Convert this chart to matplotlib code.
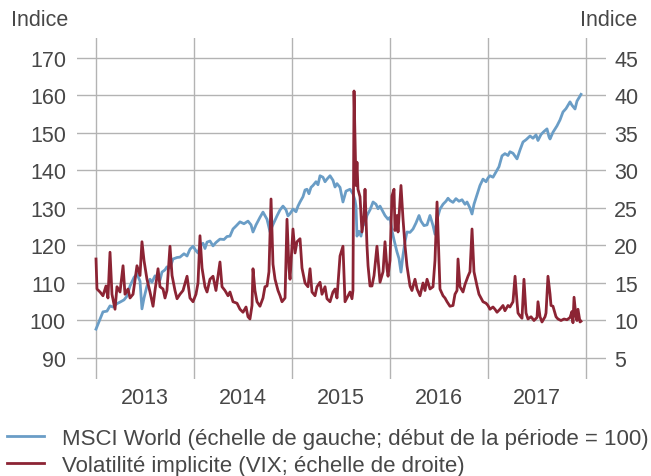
import matplotlib
matplotlib.use("Agg")
import matplotlib.pyplot as plt

# MSCI World (left scale, start = 100); time in decimal years
msci_t = [2013.000, 2013.041, 2013.071, 2013.112, 2013.143, 2013.173, 2013.214, 2013.245,
          2013.286, 2013.316, 2013.347, 2013.388, 2013.418, 2013.449, 2013.469, 2013.490,
          2013.520, 2013.551, 2013.571, 2013.602, 2013.622, 2013.653, 2013.673, 2013.704,
          2013.724, 2013.755, 2013.786, 2013.827, 2013.857, 2013.898, 2013.929, 2013.959,
          2013.990, 2014.020, 2014.041, 2014.061, 2014.092, 2014.112, 2014.133, 2014.163,
          2014.194, 2014.224, 2014.265, 2014.306, 2014.337, 2014.367, 2014.398, 2014.429,
          2014.469, 2014.510, 2014.551, 2014.582, 2014.602, 2014.633, 2014.673, 2014.704,
          2014.724, 2014.745, 2014.776, 2014.796, 2014.827, 2014.847, 2014.878, 2014.908,
          2014.939, 2014.959, 2014.980, 2015.010, 2015.041, 2015.061, 2015.082, 2015.112,
          2015.133, 2015.153, 2015.173, 2015.194, 2015.214, 2015.245, 2015.265, 2015.286,
          2015.316, 2015.337, 2015.357, 2015.388, 2015.418, 2015.439, 2015.459, 2015.490,
          2015.520, 2015.551, 2015.592, 2015.622, 2015.643, 2015.653, 2015.663, 2015.684,
          2015.704, 2015.724, 2015.745, 2015.765, 2015.796, 2015.827, 2015.857, 2015.878,
          2015.898, 2015.929, 2015.949, 2015.980, 2016.000, 2016.020, 2016.041, 2016.071,
          2016.092, 2016.112, 2016.133, 2016.153, 2016.173, 2016.204, 2016.235, 2016.265,
          2016.296, 2016.316, 2016.347, 2016.378, 2016.408, 2016.439, 2016.459, 2016.480,
          2016.510, 2016.541, 2016.571, 2016.592, 2016.612, 2016.643, 2016.673, 2016.704,
          2016.735, 2016.765, 2016.786, 2016.816, 2016.837, 2016.857, 2016.888, 2016.918,
          2016.949, 2016.980, 2017.000, 2017.020, 2017.051, 2017.082, 2017.112, 2017.143,
          2017.173, 2017.204, 2017.224, 2017.255, 2017.296, 2017.327, 2017.357, 2017.388,
          2017.429, 2017.459, 2017.490, 2017.510, 2017.541, 2017.571, 2017.602, 2017.622,
          2017.633, 2017.663, 2017.704, 2017.735, 2017.765, 2017.796, 2017.837, 2017.857,
          2017.888, 2017.908, 2017.939, 2017.949]
msci_v = [97.7, 100.4, 102.3, 102.5, 103.9, 103.6, 104.5, 104.9,
          105.5, 106.5, 109.2, 111.5, 112.4, 110.5, 103.1, 106.0,
          109.2, 111.0, 110.2, 111.9, 111.6, 110.8, 112.9, 113.5,
          114.3, 114.0, 116.4, 116.8, 116.9, 117.8, 117.2, 119.0,
          119.8, 118.6, 118.0, 119.9, 120.6, 119.2, 120.9, 121.2,
          119.9, 120.8, 121.7, 121.6, 122.4, 122.5, 124.4, 125.2,
          126.3, 125.8, 126.5, 125.5, 123.6, 125.5, 127.5, 128.9,
          128.0, 127.0, 123.6, 125.0, 126.8, 127.9, 129.5, 130.5,
          129.5, 127.9, 128.5, 129.7, 129.0, 130.5, 131.6, 133.0,
          134.8, 135.0, 133.8, 135.5, 136.0, 137.0, 136.2, 138.6,
          138.2, 137.0, 137.7, 138.6, 137.4, 135.6, 136.5, 135.5,
          131.6, 134.5, 135.0, 133.8, 132.0, 130.5, 122.5, 123.8,
          122.5, 125.3, 126.0, 128.0, 129.5, 131.6, 131.0, 129.8,
          130.5, 129.0, 128.0, 127.0, 127.5, 124.0, 121.5, 118.3,
          116.5, 112.9, 117.5, 121.0, 123.6, 123.5, 124.4, 126.0,
          128.0, 126.5, 125.3, 125.5, 128.0, 125.3, 123.0, 127.0,
          129.7, 131.0, 131.8, 132.6, 132.0, 131.5, 132.5, 131.8,
          132.2, 131.0, 131.6, 130.0, 128.4, 131.0, 133.5, 136.0,
          137.7, 137.0, 138.0, 138.6, 138.2, 139.6, 141.0, 143.9,
          144.5, 144.0, 145.0, 144.6, 143.1, 145.5, 147.6, 148.2,
          149.2, 148.6, 149.5, 148.0, 149.6, 150.4, 151.1, 149.0,
          148.4, 150.2, 151.9, 153.5, 155.6, 156.5, 158.3, 157.4,
          156.4, 158.5, 159.9, 160.3]

# VIX implied volatility (right scale)
vix_t = [2013.000, 2013.010, 2013.041, 2013.071, 2013.102, 2013.122, 2013.143, 2013.163,
         2013.194, 2013.214, 2013.245, 2013.276, 2013.296, 2013.327, 2013.347, 2013.378,
         2013.418, 2013.449, 2013.469, 2013.490, 2013.520, 2013.551, 2013.582, 2013.602,
         2013.633, 2013.653, 2013.684, 2013.704, 2013.724, 2013.755, 2013.776, 2013.806,
         2013.827, 2013.857, 2013.888, 2013.929, 2013.959, 2013.990, 2014.020, 2014.041,
         2014.061, 2014.082, 2014.112, 2014.133, 2014.163, 2014.194, 2014.224, 2014.265,
         2014.286, 2014.316, 2014.347, 2014.367, 2014.398, 2014.439, 2014.469, 2014.500,
         2014.531, 2014.551, 2014.571, 2014.592, 2014.602, 2014.622, 2014.643, 2014.673,
         2014.704, 2014.724, 2014.745, 2014.765, 2014.786, 2014.806, 2014.827, 2014.857,
         2014.878, 2014.898, 2014.929, 2014.949, 2014.969, 2014.980, 2015.010, 2015.031,
         2015.051, 2015.082, 2015.102, 2015.133, 2015.163, 2015.184, 2015.204, 2015.235,
         2015.255, 2015.286, 2015.306, 2015.337, 2015.357, 2015.388, 2015.418, 2015.439,
         2015.459, 2015.490, 2015.520, 2015.541, 2015.561, 2015.592, 2015.612, 2015.622,
         2015.633, 2015.653, 2015.663, 2015.673, 2015.694, 2015.714, 2015.735, 2015.745,
         2015.765, 2015.776, 2015.796, 2015.816, 2015.837, 2015.867, 2015.898, 2015.929,
         2015.949, 2015.969, 2015.980, 2016.000, 2016.020, 2016.041, 2016.051, 2016.071,
         2016.082, 2016.112, 2016.133, 2016.153, 2016.173, 2016.204, 2016.224, 2016.255,
         2016.276, 2016.306, 2016.337, 2016.357, 2016.378, 2016.408, 2016.439, 2016.459,
         2016.480, 2016.500, 2016.510, 2016.541, 2016.561, 2016.582, 2016.612, 2016.643,
         2016.663, 2016.684, 2016.694, 2016.714, 2016.745, 2016.765, 2016.796, 2016.816,
         2016.837, 2016.857, 2016.888, 2016.908, 2016.929, 2016.949, 2016.980, 2017.000,
         2017.020, 2017.051, 2017.071, 2017.092, 2017.122, 2017.153, 2017.173, 2017.204,
         2017.224, 2017.255, 2017.276, 2017.296, 2017.306, 2017.327, 2017.347, 2017.367,
         2017.388, 2017.408, 2017.439, 2017.469, 2017.500, 2017.510, 2017.531, 2017.551,
         2017.582, 2017.592, 2017.612, 2017.633, 2017.643, 2017.663, 2017.694, 2017.714,
         2017.745, 2017.776, 2017.806, 2017.837, 2017.857, 2017.867, 2017.878, 2017.898,
         2017.908, 2017.918, 2017.939, 2017.949]
vix_v = [18.2, 14.2, 13.8, 13.3, 14.6, 13.0, 19.1, 13.5,
         11.5, 14.5, 13.8, 17.3, 13.5, 14.2, 13.0, 13.5,
         17.3, 16.0, 20.5, 18.0, 15.5, 13.8, 11.9, 14.0,
         16.9, 14.5, 14.2, 13.0, 14.0, 19.9, 16.0, 14.0,
         12.9, 13.5, 14.0, 15.9, 13.0, 12.5, 13.5, 15.0,
         21.3, 17.0, 14.5, 13.8, 15.5, 15.9, 14.0, 17.8,
         14.5, 14.0, 13.3, 13.8, 12.5, 12.3, 11.5, 11.1,
         11.8, 10.5, 10.2, 12.0, 16.9, 14.0, 12.5, 11.9,
         13.0, 14.5, 14.6, 16.5, 26.2, 17.5, 15.5, 14.0,
         13.3, 12.5, 13.0, 23.5, 17.0, 15.5, 22.2, 19.0,
         20.5, 20.9, 17.0, 15.0, 14.5, 16.9, 13.8, 13.3,
         14.5, 15.1, 13.5, 14.5, 12.9, 12.5, 13.8, 14.2,
         13.0, 18.6, 19.9, 12.5, 13.0, 13.8, 12.9, 14.0,
         40.6, 28.0, 31.1, 27.5, 26.5, 21.8, 24.0, 27.5,
         20.0, 17.3, 14.6, 14.6, 16.0, 19.9, 15.1, 16.5,
         20.5, 17.0, 15.9, 18.0, 26.6, 27.5, 22.0, 24.0,
         21.8, 28.0, 23.5, 20.0, 17.3, 14.6, 14.0, 15.5,
         14.2, 13.3, 15.0, 14.0, 15.5, 14.2, 14.5, 18.0,
         25.8, 18.0, 14.2, 13.3, 13.0, 12.5, 11.9, 12.0,
         13.5, 14.0, 18.2, 14.5, 13.8, 14.8, 15.9, 16.5,
         22.2, 16.5, 14.6, 13.5, 13.0, 12.5, 12.3, 12.0,
         11.5, 11.8, 11.5, 11.1, 11.5, 12.0, 11.3, 12.0,
         11.8, 12.5, 15.9, 12.5, 11.0, 10.6, 10.3, 15.5,
         11.0, 10.2, 10.5, 10.0, 10.4, 12.5, 10.5, 9.8,
         10.5, 11.0, 15.9, 13.5, 12.0, 11.9, 10.5, 10.2,
         10.0, 10.2, 10.1, 10.4, 11.2, 9.7, 13.1, 10.5,
         10.0, 11.5, 9.8, 9.9]

years = [2013, 2014, 2015, 2016, 2017]
left_ticks = [90, 100, 110, 120, 130, 140, 150, 160, 170]
right_ticks = [5, 10, 15, 20, 25, 30, 35, 40, 45]

blue = "#6a9dc6"
red = "#8c2434"
text_col = "#474747"
grid_col = "#b3b3b3"
fs = 15.5

plt.rcParams["font.family"] = ["Liberation Sans", "DejaVu Sans"]

fig = plt.figure(figsize=(6.51, 4.77), dpi=100)
ax = fig.add_axes([77 / 651, 1 - 380 / 477, 529 / 651, 341 / 477])
ax2 = ax.twinx()

ax.plot(msci_t, msci_v, color=blue, lw=2.0, solid_joinstyle="round")
ax2.plot(vix_t, vix_v, color=red, lw=2.0, solid_joinstyle="round")

# left scale 90..170 maps to right scale 5..45
ylo, yhi = 84.4, 175.33
ax.set_ylim(ylo, yhi)
ax2.set_ylim((ylo - 90) / 2 + 5, (yhi - 90) / 2 + 5)
ax.set_xlim(2013 - 19 / 98, 2018 + 20 / 98)

ax.set_yticks(left_ticks)
ax2.set_yticks(right_ticks)
ax.set_xticks(years + [2018])
ax.set_xticklabels([])
ax.set_xticks([y + 0.5 for y in years], minor=True)
ax.set_xticklabels([str(y) for y in years], minor=True)

ax.grid(True, which="major", color=grid_col, lw=1.0)
for a in (ax, ax2):
    for s in a.spines.values():
        s.set_visible(False)
ax.tick_params(axis="both", which="both", length=0, labelsize=fs, colors=text_col)
ax.tick_params(axis="y", pad=8)
ax.tick_params(axis="x", which="minor", pad=6)
ax2.tick_params(axis="y", length=0, labelsize=fs, colors=text_col, pad=6)

fig.text(11 / 651, 1 - 21 / 477, "Indice", fontsize=fs, color=text_col, va="center", ha="left")
fig.text(637 / 651, 1 - 21 / 477, "Indice", fontsize=fs, color=text_col, va="center", ha="right")

h1, = ax.plot([], [], color=blue, lw=2.0)
h2, = ax.plot([], [], color=red, lw=2.0)
fig.legend([h1, h2],
           ["MSCI World (échelle de gauche; début de la période = 100)",
            "Volatilité implicite (VIX; échelle de droite)"],
           loc="upper left", bbox_to_anchor=(0.0, 1 - 422 / 477), frameon=False,
           fontsize=16, labelcolor=text_col, handlelength=1.7, handletextpad=0.8,
           labelspacing=0.28, borderaxespad=0, borderpad=0.3)

fig.savefig("out.png", dpi=100)
